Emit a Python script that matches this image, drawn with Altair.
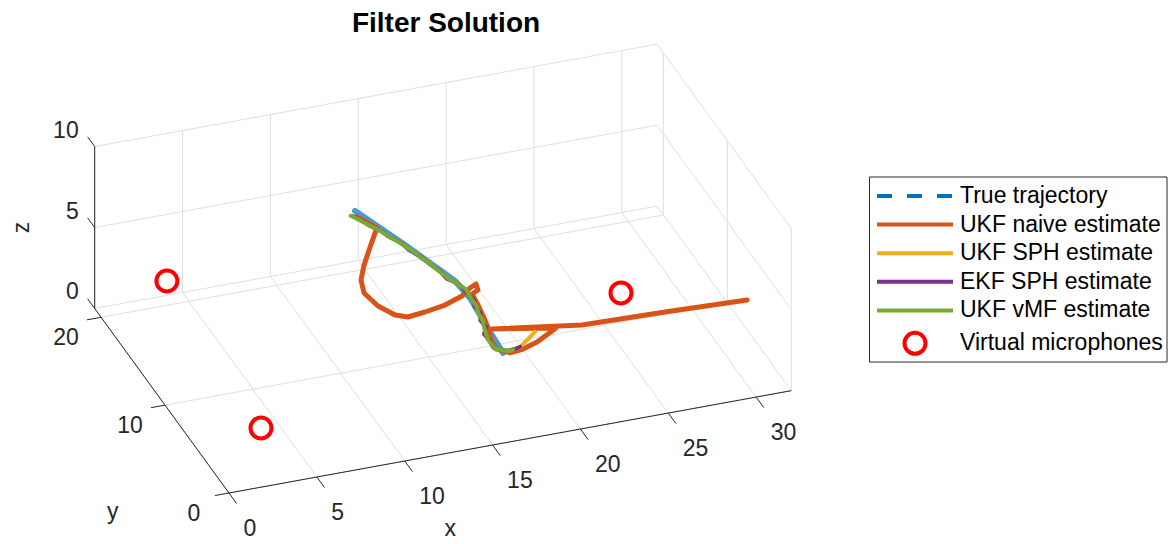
import numpy as np
import pandas as pd
import altair as alt

# ---------------- data (3-D) ----------------
X_LIM = [0, 32]
Y_LIM = [0, 21]
Z_LIM = [0, 10]
X_TICKS = [0, 5, 10, 15, 20, 25, 30]
Y_TICKS = [0, 10, 20]
Z_TICKS = [0, 5, 10]

true_x = [13.69, 14.56, 15.43, 16.26, 17.10, 17.47, 17.57, 17.61, 17.71]
true_y = [17.90, 16.38, 14.87, 13.25, 11.64, 10.31, 8.73, 7.11, 5.81]
true_z = [5.0, 4.6, 4.2, 3.8, 3.4, 3.0, 2.6, 2.3, 2.0]

naive_x = [13.57, 13.96, 14.29, 13.96, 13.38, 12.76, 12.23, 12.09, 12.49, 13.14, 13.77,
           14.81, 16.01, 17.14, 17.77, 18.16, 18.10, 17.71, 17.73, 17.68, 17.63, 17.46,
           17.50, 18.06, 18.86, 19.82, 20.66, 21.28, 18.03, 22.70, 27.35, 31.91]
naive_y = [17.26, 16.62, 16.11, 15.69, 14.86, 13.94, 12.97, 12.10, 11.02, 10.14, 9.86,
           10.05, 10.22, 10.66, 11.15, 11.28, 10.80, 10.67, 9.78, 8.69, 7.94, 7.01,
           6.34, 5.68, 5.84, 6.29, 6.89, 7.35, 8.42, 7.17, 6.96, 6.67]
naive_z = [5.0, 4.9, 4.8, 4.6, 4.3, 4.0, 3.7, 3.4, 3.1, 2.9, 2.8,
           2.8, 2.9, 3.0, 3.1, 3.2, 3.1, 3.0, 2.8, 2.6, 2.4, 2.2,
           2.0, 2.0, 2.0, 2.0, 2.0, 2.0, 2.0, 2.0, 2.0, 2.0]

ukf_sph_x = [13.35, 13.72, 14.02, 14.48, 14.78, 15.22, 15.50, 15.88, 16.18, 16.48, 16.70,
             17.12, 17.35, 17.55, 17.50, 17.50, 17.40, 17.40, 17.20, 17.22, 17.32, 17.72,
             18.02, 18.45, 18.80, 20.08]
ukf_sph_y = [17.45, 16.92, 16.45, 15.92, 15.45, 14.88, 14.25, 13.65, 13.00, 12.32, 11.65,
             11.22, 10.80, 10.05, 9.52, 8.92, 8.32, 7.78, 7.22, 6.68, 6.15, 5.92,
             5.92, 5.98, 6.10, 7.33]
ukf_sph_z = [5.0, 4.9, 4.8, 4.65, 4.5, 4.35, 4.2, 4.05, 3.9, 3.75, 3.6,
             3.45, 3.3, 3.0, 2.9, 2.8, 2.7, 2.6, 2.5, 2.4, 2.2, 2.1,
             2.0, 2.0, 2.0, 2.0]

ekf_sph_x = [13.40, 13.75, 14.00, 14.50, 14.75, 15.25, 15.45, 15.90, 16.15, 16.50, 16.65,
             17.15, 17.30, 17.60, 17.45, 17.55, 17.35, 17.45, 17.15, 17.25, 17.30, 17.75,
             18.05, 18.50, 18.80]
ekf_sph_y = [17.40, 16.90, 16.50, 15.90, 15.50, 14.85, 14.30, 13.60, 13.05, 12.30, 11.70,
             11.20, 10.85, 10.00, 9.55, 8.90, 8.35, 7.75, 7.25, 6.65, 6.20, 5.90,
             5.95, 6.00, 6.12]
ekf_sph_z = [5.0, 4.9, 4.8, 4.65, 4.5, 4.35, 4.2, 4.05, 3.9, 3.75, 3.6,
             3.45, 3.3, 3.0, 2.9, 2.8, 2.7, 2.6, 2.5, 2.4, 2.2, 2.1,
             2.0, 2.0, 2.0]

vmf_x = [13.30, 13.70, 14.05, 14.45, 14.80, 15.20, 15.55, 15.85, 16.20, 16.45, 16.75,
         17.10, 17.40, 17.50, 17.55, 17.45, 17.45, 17.35, 17.25, 17.20, 17.35, 17.70,
         18.00, 18.35]
vmf_y = [17.50, 16.95, 16.40, 15.95, 15.40, 14.90, 14.20, 13.70, 12.95, 12.35, 11.60,
         11.25, 10.75, 10.10, 9.50, 8.95, 8.30, 7.80, 7.20, 6.70, 6.10, 5.95,
         5.90, 5.98]
vmf_z = [5.0, 4.9, 4.8, 4.65, 4.5, 4.35, 4.2, 4.05, 3.9, 3.75, 3.6,
         3.45, 3.3, 3.0, 2.9, 2.8, 2.7, 2.6, 2.5, 2.4, 2.2, 2.1,
         2.0, 2.0]

mic_x = [3.45, 2.80, 25.83]
mic_y = [19.19, 2.69, 9.68]
mic_z = [2.0, 2.0, 2.0]

LEG_LABELS = ["True trajectory", "UKF naive estimate", "UKF SPH estimate",
              "EKF SPH estimate", "UKF vMF estimate", "Virtual microphones"]
LEG_ROWS = [0, 1, 2, 3, 4, 5.15]
COLORS = ["#0072BD", "#D95319", "#EDB120", "#7E2F8E", "#77AC30"]
TRUE_PLOT_COLOR = "#4A9AD4"
MIC_COLOR = "#FF0000"

# ---------------- view / layout ----------------
AZ, EL = -20.0, 30.0
S = 18.7                 # px per data unit
ORIG = (229.0, 493.0)    # page position of (0,0,0)
PAGE_LEFT = 8.0
PAD_TOP = 2
TITLE_FS = 28
TOP = 8.0 + PAD_TOP + TITLE_FS + 4  # page y of plot-area top
W, H = 832, 498
SPACING = 20
LW = 1160 - W - SPACING   # whole chart exactly fits the 1160 px page width
FONT = "Liberation Sans"
AX_COLOR = "#262626"
GRID_COLOR = "#DFDFDF"
FS = 23

XDOM = [(PAGE_LEFT - ORIG[0]) / S, (PAGE_LEFT + W - ORIG[0]) / S]
YDOM = [(ORIG[1] - (TOP + H)) / S, (ORIG[1] - TOP) / S]


def proj(x, y, z):
    a, e = np.radians(AZ), np.radians(EL)
    x, y, z = np.asarray(x, float), np.asarray(y, float), np.asarray(z, float)
    px = np.cos(a) * x + np.sin(a) * y
    py = -np.sin(e) * np.sin(a) * x + np.sin(e) * np.cos(a) * y + np.cos(e) * z
    return px, py


XS = alt.Scale(domain=XDOM, nice=False, zero=False)
YS = alt.Scale(domain=YDOM, nice=False, zero=False)


def X(f="px"):
    return alt.X(f"{f}:Q", scale=XS, axis=None)


def Y(f="py"):
    return alt.Y(f"{f}:Q", scale=YS, axis=None)


def seg_df(segs):
    a = np.array(segs, float)
    p1x, p1y = proj(a[:, 0], a[:, 1], a[:, 2])
    p2x, p2y = proj(a[:, 3], a[:, 4], a[:, 5])
    return pd.DataFrame({"px": p1x, "py": p1y, "px2": p2x, "py2": p2y})


def path_df(xs, ys, zs):
    px, py = proj(xs, ys, zs)
    return pd.DataFrame({"px": px, "py": py, "i": np.arange(len(xs))})


# grid on the back planes
x0, x1 = X_LIM
y0, y1 = Y_LIM
z0, z1 = Z_LIM
grid = []
for xt in X_TICKS:
    grid.append((xt, y0, z0, xt, y1, z0))
    grid.append((xt, y1, z0, xt, y1, z1))
for yt in Y_TICKS:
    grid.append((x0, yt, z0, x1, yt, z0))
    grid.append((x1, yt, z0, x1, yt, z1))
for zt in Z_TICKS:
    grid.append((x0, y1, zt, x1, y1, zt))
    grid.append((x1, y0, zt, x1, y1, zt))

axes = [(x0, y0, z0, x1, y0, z0), (x0, y0, z0, x0, y1, z0), (x0, y1, z0, x0, y1, z1)]
ticks = ([(t, y0, z0, t, y0 - 1.2, z0) for t in X_TICKS]
         + [(x0, t, z0, x0 - 0.8, t, z0) for t in Y_TICKS]
         + [(x0, y1, t, x0, y1 + 1.1, t) for t in Z_TICKS])

grid_l = alt.Chart(seg_df(grid)).mark_rule(color=GRID_COLOR, strokeWidth=1).encode(
    x=X(), y=Y(), x2="px2:Q", y2="py2:Q")
axes_l = alt.Chart(seg_df(axes + ticks)).mark_rule(color=AX_COLOR, strokeWidth=1).encode(
    x=X(), y=Y(), x2="px2:Q", y2="py2:Q")


def label_df(xs, ys, zs, labels, dxp, dyp):
    px, py = proj(xs, ys, zs)
    return pd.DataFrame({"px": px + dxp / S, "py": py - dyp / S, "label": labels})


xl = label_df(X_TICKS, [y0] * len(X_TICKS), [z0] * len(X_TICKS), [str(t) for t in X_TICKS], 14.5, 36)
yl = label_df([x0] * len(Y_TICKS), Y_TICKS, [z0] * len(Y_TICKS), [str(t) for t in Y_TICKS], -35, 21)
zl = label_df([x0] * len(Z_TICKS), [y1] * len(Z_TICKS), Z_TICKS, [str(t) for t in Z_TICKS], -16, -16)

txt = dict(font=FONT, fontSize=FS, color=AX_COLOR, baseline="middle")
xl_l = alt.Chart(xl).mark_text(align="left", **txt).encode(x=X(), y=Y(), text="label:N")
yl_l = alt.Chart(yl).mark_text(align="center", **txt).encode(x=X(), y=Y(), text="label:N")
zl_l = alt.Chart(zl).mark_text(align="right", **txt).encode(x=X(), y=Y(), text="label:N")

xt_df = label_df([16], [y0], [z0], ["x"], -60, 87)
yt_df = label_df([x0], [10.5], [z0], ["y"], -49, 111)
zt_df = label_df([x0], [y1], [5], ["z"], -73, 0)
xt_l = alt.Chart(xt_df).mark_text(align="center", **txt).encode(x=X(), y=Y(), text="label:N")
yt_l = alt.Chart(yt_df).mark_text(align="center", **txt).encode(x=X(), y=Y(), text="label:N")
zt_l = alt.Chart(zt_df).mark_text(align="center", angle=270, **txt).encode(x=X(), y=Y(), text="label:N")


def line_layer(xs, ys, zs, color, width):
    return alt.Chart(path_df(xs, ys, zs)).mark_line(
        color=color, strokeWidth=width, strokeCap="round", strokeJoin="round"
    ).encode(x=X(), y=Y(), order="i:Q")


true_l = line_layer(true_x, true_y, true_z, TRUE_PLOT_COLOR, 6)
naive_l = line_layer(naive_x, naive_y, naive_z, COLORS[1], 5)
ukf_l = line_layer(ukf_sph_x, ukf_sph_y, ukf_sph_z, COLORS[2], 4)
ekf_l = line_layer(ekf_sph_x, ekf_sph_y, ekf_sph_z, COLORS[3], 4)
vmf_l = line_layer(vmf_x, vmf_y, vmf_z, COLORS[4], 4)

mpx, mpy = proj(mic_x, mic_y, mic_z)
mic_l = alt.Chart(pd.DataFrame({"px": mpx, "py": mpy})).mark_point(
    shape="circle", filled=False, color=MIC_COLOR, size=441, strokeWidth=4, opacity=1
).encode(x=X(), y=Y())

main = alt.layer(
    grid_l, axes_l, xl_l, yl_l, zl_l, xt_l, yt_l, zt_l,
    true_l, naive_l, ukf_l, ekf_l, vmf_l, mic_l
).properties(width=W, height=H)

# ---------------- legend panel ----------------
ROW_H = 28.6
ROW0 = 196.0 - TOP
leg = pd.DataFrame({"label": LEG_LABELS, "row": LEG_ROWS})
leg["ly"] = ROW0 + ROW_H * leg["row"]
LYS = alt.Scale(domain=[H, 0], nice=False, zero=False)
LY = alt.Y("ly:Q", scale=LYS, axis=None)

box = alt.Chart(pd.DataFrame({"a": [0]})).mark_rect(
    fill="white", stroke=AX_COLOR, strokeWidth=1
).encode(x=alt.value(9.5), x2=alt.value(LW - 1),
         y=alt.value(177 - TOP), y2=alt.value(362 - TOP))

samples = alt.Chart(leg.iloc[:5]).mark_rule(strokeWidth=4, strokeCap="butt").encode(
    x=alt.value(17), x2=alt.value(93), y=LY,
    color=alt.Color("label:N", scale=alt.Scale(domain=LEG_LABELS[:5], range=COLORS), legend=None),
    strokeDash=alt.StrokeDash("label:N", scale=alt.Scale(
        domain=LEG_LABELS[:5], range=[[15, 15], [1, 0], [1, 0], [1, 0], [1, 0]]), legend=None),
)
leg_mic = alt.Chart(leg.iloc[5:]).mark_point(
    shape="circle", filled=False, color=MIC_COLOR, size=441, strokeWidth=4, opacity=1
).encode(x=alt.value(55), y=LY)
leg_txt = alt.Chart(leg).mark_text(
    align="left", baseline="middle", font=FONT, fontSize=FS, color="black"
).encode(x=alt.value(100), y=LY, text="label:N")

legend = alt.layer(box, samples, leg_mic, leg_txt).properties(width=LW, height=H)

total_w = W + SPACING + LW
chart = alt.hconcat(main, legend, spacing=SPACING).properties(
    padding={"top": PAD_TOP, "left": 0, "right": 0, "bottom": 0},
    title=alt.TitleParams(
        text="Filter Solution", font=FONT, fontSize=TITLE_FS, fontWeight="bold", color="black",
        anchor="middle", dx=446 - (PAGE_LEFT + total_w / 2), offset=4,
    ),
).configure_view(stroke=None)

chart.save("out.html", embed_options={"renderer": "svg", "actions": False})
